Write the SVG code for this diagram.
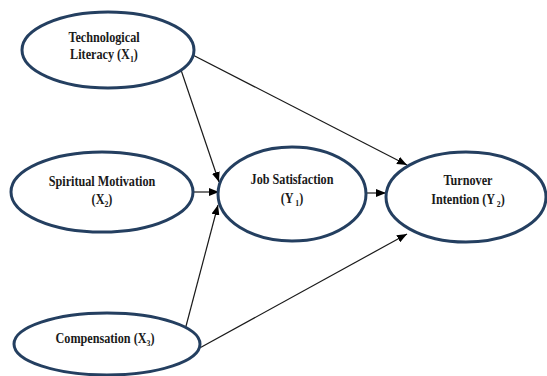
<svg xmlns="http://www.w3.org/2000/svg" width="547" height="376" viewBox="0 0 547 376">
<defs>
<style>
.node ellipse{fill:#fff;stroke:#243f60;stroke-width:3}
.node text{font-family:"Liberation Serif","Times New Roman",serif;font-weight:bold;font-size:14px;fill:#1a1a1a;text-anchor:middle}
.sub{font-size:9px}
.edges line{stroke:#1a1a1a;stroke-width:1.2;marker-end:url(#ah)}
</style>
<marker id="ah" markerUnits="userSpaceOnUse" markerWidth="10" markerHeight="8" refX="10" refY="4" orient="auto">
<path d="M0,0 L10,4 L0,8 z" fill="#000"/>
</marker>
</defs>
<rect width="547" height="376" fill="#fff"/>
<g class="edges" id="connectors">
<line x1="180" y1="67" x2="219" y2="182"/>
<line x1="194" y1="192" x2="219" y2="192"/>
<line x1="185" y1="330" x2="218" y2="205"/>
<line x1="366" y1="193" x2="386" y2="193"/>
<line x1="185" y1="51" x2="407" y2="165"/>
<line x1="196" y1="350" x2="407" y2="234"/>
</g>
<g class="node" id="technological-literacy">
<ellipse cx="108" cy="50" rx="86" ry="38"/>
<g transform="translate(104 0) scale(0.87 1)">
<text x="0" y="42">Technological</text>
<text x="0" y="59">Literacy (X<tspan class="sub" dy="3">1</tspan><tspan dy="-3">)</tspan></text>
</g>
</g>
<g class="node" id="spiritual-motivation">
<ellipse cx="102" cy="192" rx="91" ry="40"/>
<g transform="translate(102 0) scale(0.87 1)">
<text x="0" y="186">Spiritual Motivation</text>
<text x="0" y="204">(X<tspan class="sub" dy="3">2</tspan><tspan dy="-3">)</tspan></text>
</g>
</g>
<g class="node" id="compensation">
<ellipse cx="107" cy="344" rx="93" ry="31"/>
<g transform="translate(105 0) scale(0.87 1)">
<text x="0" y="343">Compensation (X<tspan class="sub" dy="3">3</tspan><tspan dy="-3">)</tspan></text>
</g>
</g>
<g class="node" id="job-satisfaction">
<ellipse cx="292" cy="194" rx="74" ry="47"/>
<g transform="translate(292 0) scale(0.87 1)">
<text x="0" y="184">Job Satisfaction</text>
<text x="0" y="203">(Y<tspan class="sub" dx="2" dy="3">1</tspan><tspan dy="-3">)</tspan></text>
</g>
</g>
<g class="node" id="turnover-intention">
<ellipse cx="466" cy="197" rx="80" ry="45"/>
<g transform="translate(468 0) scale(0.87 1)">
<text x="0" y="185">Turnover</text>
<text x="0" y="204">Intention (Y<tspan class="sub" dx="2" dy="3">2</tspan><tspan dy="-3">)</tspan></text>
</g>
</g>
</svg>
